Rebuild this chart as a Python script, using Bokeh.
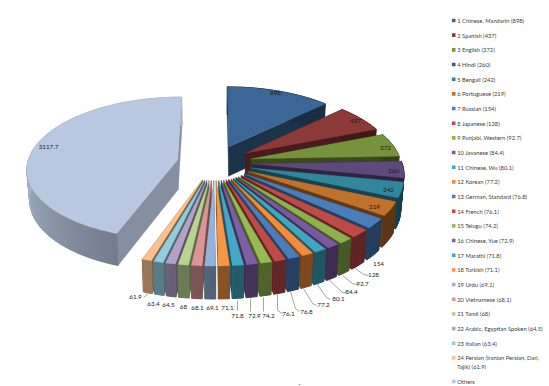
import math
from bokeh.plotting import figure
from bokeh.core.properties import value
from bokeh.embed import file_html
from bokeh.resources import INLINE

languages = ["1 Chinese, Mandarin", "2 Spanish", "3 English", "4 Hindi", "5 Bengali", "6 Portuguese",
             "7 Russian", "8 Japanese", "9 Punjabi, Western", "10 Javanese", "11 Chinese, Wu", "12 Korean",
             "13 German, Standard", "14 French", "15 Telugu", "16 Chinese, Yue", "17 Marathi", "18 Turkish",
             "19 Urdu", "20 Vietnamese", "21 Tamil", "22 Arabic, Egyptian Spoken", "23 Italian",
             "24 Persian (Iranian Persian, Dari, Tajik)", "Others"]
speakers = [898, 437, 372, 260, 242, 219, 154, 128, 92.7, 84.4, 80.1, 77.2, 76.8, 76.1, 74.2, 72.9, 71.8,
            71.1, 69.1, 68.1, 68, 64.5, 63.4, 61.9, 3117.7]
colors = ["#3B6695", "#8C3A38", "#76923C", "#5F497A", "#31859C", "#C0722D",
          "#4A7EBB", "#BE4B48", "#8FB04F", "#7A5A9E", "#3FA6C0", "#F08C3C",
          "#4A7EBB", "#BE4B48", "#98B954", "#7D5FA3", "#42A8C4", "#F79646",
          "#95B3D7", "#D99694", "#BBD392", "#B3A2C7", "#93CDDD", "#FAC090", "#B9C7E0"]

# display layout of the data labels (screen pixels), not data
label_pos = [(275, 92), (355, 120), (385, 147), (393, 170), (388, 189), (374, 206), (378, 263), (373, 274),
             (362, 283), (351, 291), (338, 298), (323, 304), (306, 311), (288, 313), (268, 315), (254, 315),
             (237, 315), (227, 307), (212, 307), (197, 307), (183, 306), (168, 304), (153, 303), (135, 296),
             (48, 146)]
leaders = [((143, 297), (148, 293)), ((237, 300), (237, 310)), ((250, 298), (250, 311)), ((263, 297), (263, 311)),
           ((277, 294), (277, 310), (282, 313)), ((290, 291), (295, 308), (299, 311)),
           ((303, 288), (312, 303), (316, 305)), ((316, 283), (326, 297), (330, 299)),
           ((328, 279), (342, 292), (345, 292)), ((342, 275), (352, 283), (356, 284)),
           ((355, 268), (363, 274), (368, 275))]

CX, CY, RX, RY, PERSP, EXPLODE = 214, 162, 150, 70.5, 0.119, 0.25


def project(u, v, bottom=False):
    s = 1 / (1 + PERSP * v)
    x = RX * u * s
    y = -RY * v * s
    if bottom:
        x *= 0.985
        y += 30 + (s - 1) * 17
    return CX + x, CY + y


def shade(hex_color, f):
    r, g, b = (int(hex_color[i:i + 2], 16) for i in (1, 3, 5))
    return "#%02x%02x%02x" % (int(r * f), int(g * f), int(b * f))


def side_factor(deg):
    if deg < 180:
        return 0.45 + max(deg - 90, 0) / 90 * 0.1
    return 0.55 + min(deg - 180, 90) / 90 * 0.35


def wedge_faces(a0, a1, col):
    mid = math.radians((a0 + a1) / 2)
    ex, ey = EXPLODE * math.sin(mid), EXPLODE * math.cos(mid)
    n = max(3, int((a1 - a0) / 1.5))
    angles = [a0 + (a1 - a0) * i / n for i in range(n + 1)]
    rim = [(ex + math.sin(math.radians(t)), ey + math.cos(math.radians(t))) for t in angles]
    apex = (ex, ey)

    def quad(p, q):
        pts = [project(*p), project(*q), project(*q, True), project(*p, True)]
        return [c[0] for c in pts], [c[1] for c in pts]

    faces = []
    radial = 0.5 if col != colors[-1] else 0.72
    start_f = (*quad(apex, rim[0]), shade(col, radial), 0.3)
    end_f = (*quad(apex, rim[-1]), shade(col, radial), 0.3)
    faces += [start_f, end_f] if (a0 + a1) / 2 < 180 else [end_f, start_f]
    for i in range(n):
        xs, ys = quad(rim[i], rim[i + 1])
        faces.append((xs, ys, shade(col, side_factor((angles[i] + angles[i + 1]) / 2)), 1.0))
    top = [project(*apex)] + [project(*r) for r in rim]
    faces.append(([c[0] for c in top], [c[1] for c in top], col, 0.3))
    return faces


total = sum(speakers)
spans = []
run = 0
for v in speakers:
    spans.append((run / total * 360, (run + v) / total * 360))
    run += v

# painter's order: back to front on each side of the pie
order = sorted(range(len(speakers)), key=lambda i: math.cos(math.radians(sum(spans[i]) / 2)), reverse=True)

xs, ys, fills, widths = [], [], [], []
for i in order:
    for fx, fy, c, w in wedge_faces(*spans[i], colors[i]):
        xs.append(fx)
        ys.append(fy)
        fills.append(c)
        widths.append(w)

p = figure(width=549, height=386, x_range=(0, 549), y_range=(386, 0), output_backend="svg",
           toolbar_location=None, min_border=0, outline_line_color=None, background_fill_color="white")
p.axis.visible = False
p.grid.visible = False

p.patches(xs=xs, ys=ys, fill_color=fills, line_color=fills, line_width=widths, line_join="round")

p.multi_line([[c[0] for c in l] for l in leaders], [[c[1] for c in l] for l in leaders],
             line_color="#7f7f7f", line_width=0.7)

FONT = value("Lato")
p.text([c[0] for c in label_pos], [c[1] for c in label_pos], text=[f"{v:g}" for v in speakers],
       text_font=FONT, text_font_size="6.3px", text_color="#1c1c1c",
       text_align="center", text_baseline="middle")

# legend
ly, lx, ltxt, mx, my, mc = [], [], [], [], [], []
y = 20.0
for name, v, c in zip(languages, speakers, colors):
    mx.append(453.2)
    my.append(y)
    mc.append(c)
    label = name if name == "Others" else f"{name} ({v:g})"
    if name.startswith("24"):
        lx += [456.7, 456.7]
        ly += [y, y + 9]
        ltxt += ["24 Persian (Iranian Persian, Dari,", "Tajik) (61.9)"]
        y += 23.5
    else:
        lx.append(456.7)
        ly.append(y)
        ltxt.append(label)
        y += 14.67
p.rect(mx, my, width=3.6, height=3.6, fill_color=mc, line_color=None)
p.text(lx, ly, text=ltxt, text_font=FONT, text_font_size="5.8px", text_color="#404040",
       text_align="left", text_baseline="middle")
p.text([299], [381], text=["."], text_font=FONT, text_font_size="8px", text_color="#222222",
       text_align="center", text_baseline="middle")

open("out.html", "w").write(file_html(p, INLINE))
